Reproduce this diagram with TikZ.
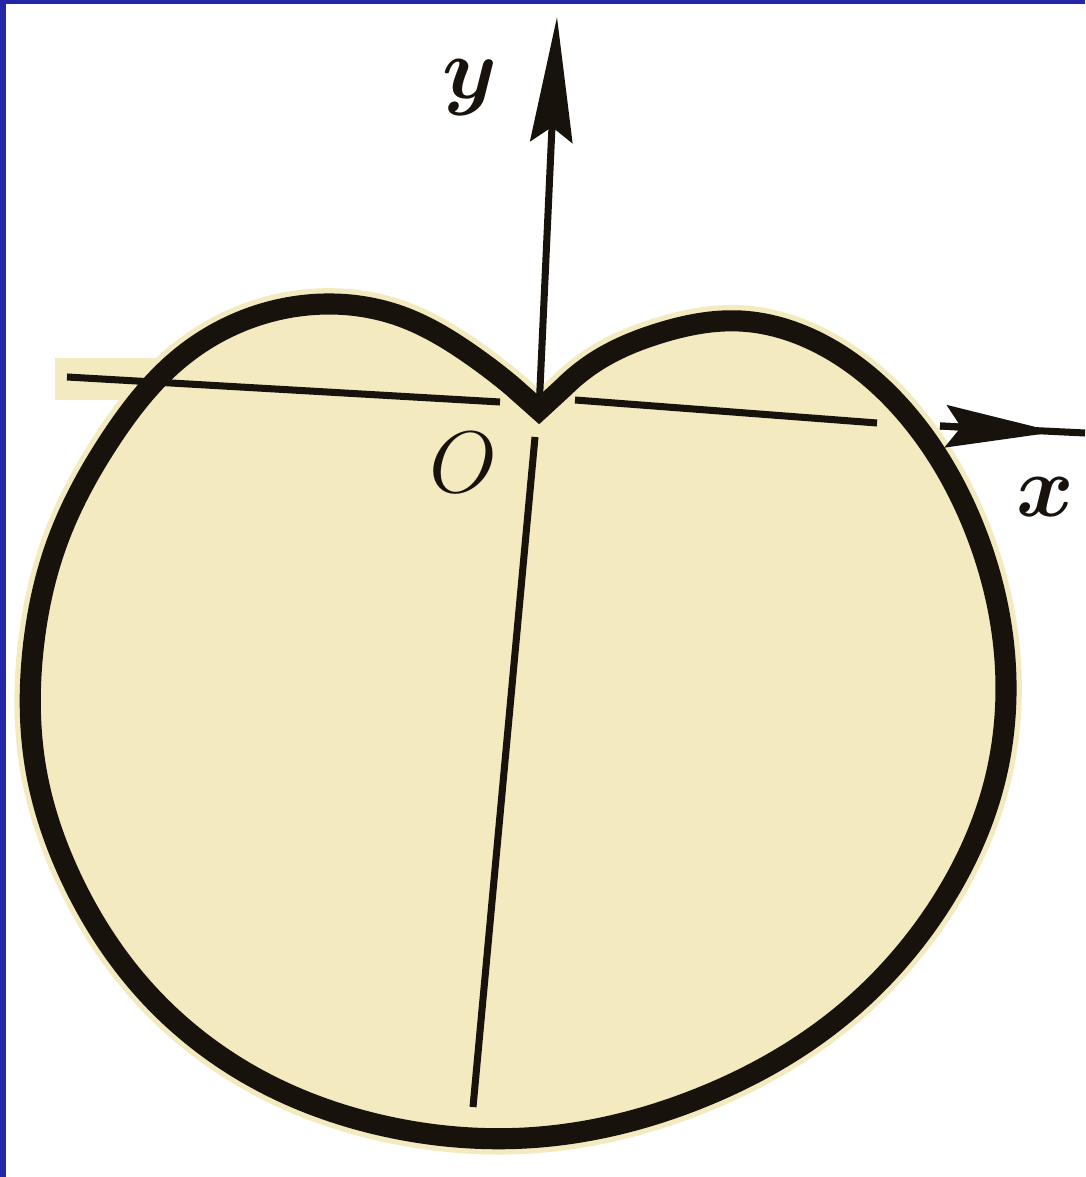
\documentclass[tikz,border=0pt]{standalone}
\usepackage{amsmath}
\usetikzlibrary{arrows.meta, hobby}
\definecolor{paper}{RGB}{243,234,192}
\definecolor{frameblue}{RGB}{36,38,168}
\definecolor{ink}{RGB}{24,18,12}
\newcommand{\bigletter}{\fontsize{40}{44}\selectfont}
\newcommand{\midletter}{\fontsize{36}{40}\selectfont}
\newcommand{\origletter}{\fontsize{30}{34}\selectfont}

\begin{document}
\begin{tikzpicture}[
    x=0.01cm, y=-0.01cm,
    curve/.style={draw=ink, line width=6pt, line join=miter},
    halo/.style={draw=paper, line width=9pt},
    axis/.style={draw=ink, line width=2pt},
    axarrow/.style={axis, -{Stealth[length=11mm, width=4.2mm, inset=1.5mm]}},
    lbl/.style={text=ink, inner sep=0pt}
  ]
  \useasboundingbox (0,0) rectangle (1085,1177);
  % frame of the slide
  \fill[frameblue] (0,0) rectangle (6,1177);
  \fill[frameblue] (0,0) rectangle (1085,4);

  % paper and the curve
  \fill[paper] (55,358) rectangle (160,400);
  \draw[curve, fill=paper, preaction={halo}, use Hobby shortcut]
    (539,410) -- (512,386) .. (470,354) .. (400,316) .. (327,304) .. (250,318)
    .. (180,358) .. (110,440) .. (58,540) .. (33,650) .. (36,770) .. (72,880)
    .. (140,985) .. (250,1075) .. (380,1125) .. (540,1137) .. (700,1098)
    .. (840,1017) .. (940,905) .. (995,780) .. (1005,660) .. (975,530)
    .. (910,418) .. (830,349) .. (740,321) .. (660,333) .. (595,362)
    .. (564,387) -- (539,410) -- cycle;

  % axes
  \coordinate (xL) at (67,377);   \coordinate (xA) at (500,402);
  \coordinate (xB) at (575,400);  \coordinate (xC) at (877,423);
  \coordinate (xD) at (940,426);  \coordinate (xtip) at (1056,432);
  \coordinate (xE) at (1085,433);
  \coordinate (cusp) at (539,410); \coordinate (ytip) at (557,17);
  \coordinate (yB) at (535,437);  \coordinate (yE) at (473,1107);

  \draw[axis] (xL) -- (xA);
  \draw[axis] (xB) -- (xC);
  \draw[axis] (xD) -- (xE);
  \draw[axarrow] (xD) -- (xtip);
  \draw[axis, -{Stealth[length=12.5mm, width=4.2mm, inset=1.5mm]}] (cusp) -- (ytip);
  \draw[axis] (yB) -- (yE);

  \node[lbl] (ylbl) at (470,88) {\bigletter $\boldsymbol{y}$};
  \node[lbl] (olbl) at (463,463) {\origletter $O$};
  \node[lbl] (xlbl) at (1045,497) {\midletter $\boldsymbol{x}$};
\end{tikzpicture}
\end{document}
